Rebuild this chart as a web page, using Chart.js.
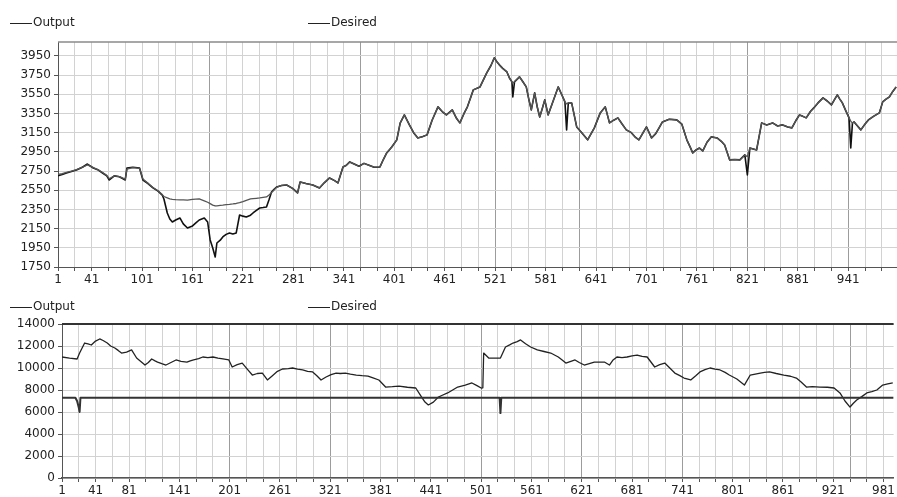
<!DOCTYPE html>
<html>
<head>
<meta charset="utf-8">
<script src="https://cdn.jsdelivr.net/npm/chart.js@4.4.1/dist/chart.umd.min.js"></script>
<style>
  html, body { margin: 0; padding: 0; background: #fff; overflow: hidden; }
  #c1 { position: absolute; left: 0; top: 0; }
  #c2 { position: absolute; left: 0; top: 288px; }
</style>
</head>
<body>
<canvas id="c1" width="897" height="288"></canvas>
<canvas id="c2" width="897" height="209"></canvas>
<script>
// ---------- upper panel: sample index, desired and network output ----------
const topIdx = [
  1, 6, 11, 17, 23, 30, 36, 43, 49, 54,
  59, 62, 68, 74, 81, 83, 90, 98, 102, 108,
  114, 120, 125, 127, 131, 134, 137, 141, 146, 150,
  155, 161, 165, 169, 175, 179, 182, 185, 188, 190,
  194, 197, 201, 205, 209, 213, 217, 221, 225, 230,
  233, 237, 241, 245, 249, 252, 255, 258, 261, 267,
  273, 280, 286, 289, 296, 304, 308, 312, 318, 324,
  330, 334, 340, 344, 348, 354, 359, 365, 371, 377,
  384, 388, 392, 398, 404, 408, 413, 419, 424, 429,
  435, 440, 446, 453, 458, 463, 470, 475, 479, 484,
  488, 492, 495, 503, 507, 511, 516, 520, 523, 526,
  530, 535, 538, 541, 542, 544, 550, 554, 558, 561,
  564, 568, 571, 574, 577, 580, 584, 590, 596, 600,
  604, 606, 608, 612, 618, 624, 631, 639, 646, 652,
  657, 662, 667, 672, 677, 683, 688, 692, 697, 701,
  707, 712, 716, 720, 728, 737, 743, 749, 753, 756,
  760, 764, 768, 773, 778, 785, 790, 794, 800, 806,
  812, 818, 821, 824, 832, 838, 844, 851, 857, 863,
  869, 874, 879, 883, 887, 891, 896, 900, 905, 911,
  916, 921, 925, 928, 931, 934, 938, 942, 944, 946,
  948, 952, 956, 961, 965, 971, 978, 982, 986, 990,
  994, 998
];
const topDesired = [
  2700, 2715, 2730, 2745, 2760, 2790, 2823, 2782, 2760, 2730,
  2700, 2657, 2700, 2690, 2657, 2782, 2790, 2782, 2657, 2620,
  2574, 2540, 2500, 2459, 2313, 2250, 2219, 2240, 2261, 2200,
  2157, 2178, 2210, 2240, 2261, 2219, 2032, 1950, 1854, 2000,
  2030, 2063, 2090, 2105, 2095, 2105, 2292, 2280, 2271, 2290,
  2313, 2340, 2365, 2370, 2376, 2450, 2532, 2560, 2584, 2600,
  2605, 2570, 2522, 2636, 2620, 2605, 2590, 2574, 2630, 2678,
  2650, 2626, 2793, 2810, 2845, 2820, 2800, 2830, 2810, 2790,
  2793, 2870, 2939, 3000, 3075, 3250, 3335, 3231, 3150, 3095,
  3110, 3127, 3280, 3419, 3370, 3335, 3387, 3300, 3252, 3350,
  3419, 3520, 3596, 3627, 3700, 3773, 3850, 3930, 3890, 3857,
  3820, 3783, 3720, 3679, 3523, 3680, 3732, 3680, 3627, 3500,
  3387, 3565, 3420, 3314, 3400, 3492, 3335, 3480, 3627, 3550,
  3471, 3179, 3460, 3460, 3210, 3150, 3075, 3200, 3356, 3419,
  3252, 3280, 3304, 3240, 3179, 3150, 3100, 3075, 3150, 3210,
  3095, 3140, 3200, 3262, 3290, 3283, 3240, 3075, 3000, 2939,
  2970, 2990, 2960, 3050, 3106, 3095, 3060, 3022, 2866, 2870,
  2866, 2918, 2710, 2990, 2970, 3252, 3230, 3252, 3220, 3231,
  3210, 3200, 3280, 3335, 3320, 3304, 3370, 3408, 3460, 3512,
  3480, 3440, 3500, 3544, 3500, 3460, 3380, 3304, 2990, 3250,
  3262, 3220, 3179, 3240, 3283, 3320, 3356, 3471, 3500, 3523,
  3580, 3627
];
const topOutput = [
  2715, 2722, 2735, 2748, 2765, 2790, 2815, 2785, 2762, 2735,
  2705, 2670, 2700, 2692, 2665, 2770, 2785, 2778, 2668, 2622,
  2578, 2545, 2505, 2485, 2470, 2459, 2455, 2452, 2450, 2449,
  2448, 2455, 2458, 2459, 2440, 2425, 2410, 2395, 2386, 2388,
  2392, 2395, 2400, 2403, 2407, 2412, 2420, 2432, 2445, 2459,
  2462, 2466, 2470, 2475, 2480, 2500, 2525, 2553, 2580, 2600,
  2605, 2570, 2522, 2636, 2620, 2605, 2590, 2574, 2630, 2678,
  2650, 2626, 2793, 2810, 2845, 2820, 2800, 2830, 2810, 2790,
  2793, 2870, 2939, 3000, 3075, 3250, 3335, 3231, 3150, 3095,
  3110, 3127, 3280, 3419, 3370, 3335, 3387, 3300, 3252, 3350,
  3419, 3520, 3596, 3627, 3700, 3773, 3850, 3930, 3890, 3857,
  3820, 3783, 3720, 3679, 3665, 3680, 3732, 3680, 3627, 3500,
  3387, 3565, 3420, 3314, 3400, 3492, 3335, 3480, 3627, 3550,
  3471, 3450, 3460, 3460, 3210, 3150, 3075, 3200, 3356, 3419,
  3252, 3280, 3304, 3240, 3179, 3150, 3100, 3075, 3150, 3210,
  3095, 3140, 3200, 3262, 3290, 3283, 3240, 3075, 3000, 2939,
  2970, 2990, 2960, 3050, 3106, 3095, 3060, 3022, 2866, 2870,
  2866, 2918, 2900, 2990, 2970, 3252, 3230, 3252, 3220, 3231,
  3210, 3200, 3280, 3335, 3320, 3304, 3370, 3408, 3460, 3512,
  3480, 3440, 3500, 3544, 3500, 3460, 3380, 3304, 3270, 3250,
  3262, 3220, 3179, 3240, 3283, 3320, 3356, 3471, 3500, 3523,
  3580, 3627
];
const topYTicks = [1750, 1950, 2150, 2350, 2550, 2750, 2950, 3150, 3350, 3550, 3750, 3950];
const topXLabels = [1, 41, 101, 161, 221, 281, 341, 401, 461, 521, 581, 641, 701, 761, 821, 881, 941];

// ---------- lower panel ----------
const botIdx = [
  1, 2, 10, 19, 22, 28, 32, 36, 41, 46,
  50, 55, 59, 64, 68, 72, 78, 84, 90, 95,
  100, 104, 108, 112, 115, 120, 125, 131, 137, 143,
  150, 154, 158, 164, 169, 175, 181, 187, 193, 200,
  204, 210, 216, 222, 228, 234, 240, 246, 252, 258,
  264, 271, 276, 282, 288, 294, 300, 305, 310, 316,
  322, 328, 333, 339, 345, 352, 359, 366, 372, 379,
  387, 395, 403, 413, 423, 430, 434, 438, 444, 450,
  454, 461, 467, 473, 482, 490, 496, 501, 503, 504,
  510, 517, 524, 530, 535, 539, 544, 548, 554, 560,
  568, 576, 584, 593, 598, 602, 608, 613, 618, 624,
  630, 636, 642, 648, 654, 658, 663, 669, 675, 681,
  687, 693, 699, 708, 714, 720, 726, 732, 738, 743,
  751, 757, 762, 768, 774, 780, 786, 792, 797, 806,
  815, 822, 828, 834, 839, 845, 853, 862, 870, 877,
  883, 889, 896, 905, 914, 922, 929, 935, 941, 945,
  949, 955, 961, 967, 973, 980, 986, 992
];
const botDesired = [
  11000, 11000, 10900, 10820, 11360, 12270, 12200, 12090, 12450, 12640,
  12500, 12270, 12000, 11820, 11600, 11360, 11450, 11640, 10910, 10600,
  10270, 10500, 10820, 10650, 10540, 10400, 10270, 10500, 10730, 10600,
  10540, 10650, 10730, 10850, 11000, 10950, 11000, 10900, 10820, 10730,
  10090, 10300, 10450, 9900, 9360, 9500, 9540, 8910, 9300, 9700,
  9910, 9950, 10000, 9900, 9820, 9700, 9640, 9300, 8910, 9180,
  9400, 9540, 9500, 9540, 9450, 9360, 9300, 9270, 9100, 8910,
  8270, 8300, 8360, 8250, 8180, 7360, 6900, 6640, 6900, 7360,
  7500, 7730, 8000, 8270, 8450, 8640, 8400, 8180, 8200, 11360,
  10910, 10900, 10910, 11910, 12100, 12270, 12400, 12550, 12200, 11910,
  11640, 11500, 11360, 11000, 10700, 10450, 10600, 10730, 10500, 10270,
  10400, 10540, 10540, 10540, 10270, 10700, 11000, 10950, 11000, 11100,
  11180, 11050, 11000, 10090, 10300, 10450, 10000, 9540, 9300, 9090,
  8910, 9300, 9640, 9850, 10000, 9900, 9820, 9600, 9360, 9000,
  8450, 9360, 9450, 9540, 9600, 9640, 9500, 9360, 9250, 9090,
  8700, 8270, 8300, 8270, 8250, 8180, 7730, 7000, 6450, 6800,
  7090, 7400, 7730, 7850, 8000, 8450, 8550, 8640
];
const botOutIdx = [1, 17, 19, 21, 22, 23, 522, 523, 524, 525, 993];
const botOutput = [7300, 7300, 7000, 6400, 6000, 7300, 7300, 7300, 5900, 7300, 7300];
const botYTicks = [0, 2000, 4000, 6000, 8000, 10000, 12000, 14000];
const botXLabels = [1, 41, 81, 141, 201, 261, 321, 381, 441, 501, 561, 621, 681, 741, 801, 861, 921, 981];

// ---------- shared styling ----------
const FONT = { family: "'DejaVu Sans', 'Liberation Sans', sans-serif", size: 12 };
const TEXT = '#222';
const GRID = '#d2d2d2';
const GRID_DARK = '#9c9c9c';
const AXIS = '#555';

const pts = (xs, ys) => xs.map((x, k) => ({ x, y: ys[k] }));
const every20 = max => { const t = []; for (let v = 1; v <= max; v += 20) t.push({ value: v }); return t; };

// legend: short line + label, items placed at fixed offsets
const lineLegend = {
  id: 'lineLegend',
  afterDraw(chart, args, opts) {
    const ctx = chart.ctx;
    ctx.save();
    ctx.font = `${FONT.size}px ${FONT.family}`;
    ctx.textBaseline = 'middle';
    ctx.fillStyle = TEXT;
    ctx.strokeStyle = '#222';
    ctx.lineWidth = 1;
    chart.data.datasets.forEach((ds, k) => {
      const x = opts.x[k];
      ctx.beginPath();
      ctx.moveTo(x, opts.y + 0.5);
      ctx.lineTo(x + 22, opts.y + 0.5);
      ctx.stroke();
      ctx.fillText(ds.label, x + 23, opts.y);
    });
    ctx.restore();
  }
};

// upper edge of the plotting frame
const frameTop = {
  id: 'frameTop',
  beforeDatasetsDraw(chart, args, opts) {
    const { ctx, chartArea: a } = chart;
    ctx.save();
    ctx.strokeStyle = opts.color;
    ctx.lineWidth = opts.width;
    ctx.beginPath();
    ctx.moveTo(a.left, a.top);
    ctx.lineTo(a.right, a.top);
    ctx.stroke();
    ctx.restore();
  }
};

function makeChart(canvas, cfg) {
  return new Chart(canvas, {
    type: 'line',
    data: { datasets: cfg.datasets },
    options: {
      responsive: false,
      animation: false,
      events: [],
      layout: { padding: { top: cfg.padTop, left: 0, right: 0, bottom: 0 } },
      elements: { point: { radius: 0 }, line: { tension: 0, borderJoinStyle: 'round' } },
      plugins: {
        legend: { display: false },
        tooltip: { enabled: false },
        lineLegend: { x: [10, 308], y: cfg.legendY },
        frameTop: cfg.frame
      },
      scales: {
        x: {
          type: 'linear',
          min: 1,
          max: cfg.xMax,
          afterBuildTicks: s => { s.ticks = every20(cfg.xMax); },
          afterFit: s => { s.height = cfg.xAxisHeight; },
          ticks: {
            autoSkip: false, maxRotation: 0, minRotation: 0, padding: 2,
            font: FONT, color: TEXT,
            callback: v => cfg.xLabels.includes(v) ? String(v) : ''
          },
          grid: {
            color: c => (c.tick && cfg.darkGrid.includes(c.tick.value)) ? GRID_DARK : GRID,
            tickLength: 4,
            tickColor: AXIS
          },
          border: { color: AXIS, width: cfg.xAxisWidth }
        },
        y: {
          min: cfg.yMin,
          max: cfg.yMax,
          afterBuildTicks: s => { s.ticks = cfg.yTicks.map(v => ({ value: v })); },
          afterFit: s => { s.width = cfg.yAxisWidth; },
          ticks: { autoSkip: false, padding: 3, font: FONT, color: TEXT, callback: v => String(v) },
          grid: { color: GRID, tickLength: 4, tickColor: AXIS },
          border: { color: AXIS, width: 1 }
        }
      }
    },
    plugins: [lineLegend, frameTop]
  });
}

makeChart(document.getElementById('c1'), {
  datasets: [
    { label: 'Output', data: pts(topIdx, topOutput), borderColor: '#555', borderWidth: 1.3 },
    { label: 'Desired', data: pts(topIdx, topDesired), borderColor: '#111', borderWidth: 1.6 }
  ],
  padTop: 42, legendY: 23,
  xMax: 999, xAxisHeight: 21, xAxisWidth: 1,
  xLabels: topXLabels, darkGrid: [181, 361, 521, 621, 821, 941],
  yMin: 1750, yMax: 4095, yTicks: topYTicks, yAxisWidth: 58,
  frame: { color: '#8a8a8a', width: 1.5 }
});

makeChart(document.getElementById('c2'), {
  datasets: [
    { label: 'Output', data: pts(botOutIdx, botOutput), borderColor: '#333', borderWidth: 2 },
    { label: 'Desired', data: pts(botIdx, botDesired), borderColor: '#222', borderWidth: 1.3 }
  ],
  padTop: 36, legendY: 19,
  xMax: 993, xAxisHeight: 19, xAxisWidth: 1.5,
  xLabels: botXLabels, darkGrid: [201, 321, 501, 621, 741, 941],
  yMin: 0, yMax: 14000, yTicks: botYTicks, yAxisWidth: 62,
  frame: { color: '#333', width: 2 }
});
</script>
</body>
</html>
